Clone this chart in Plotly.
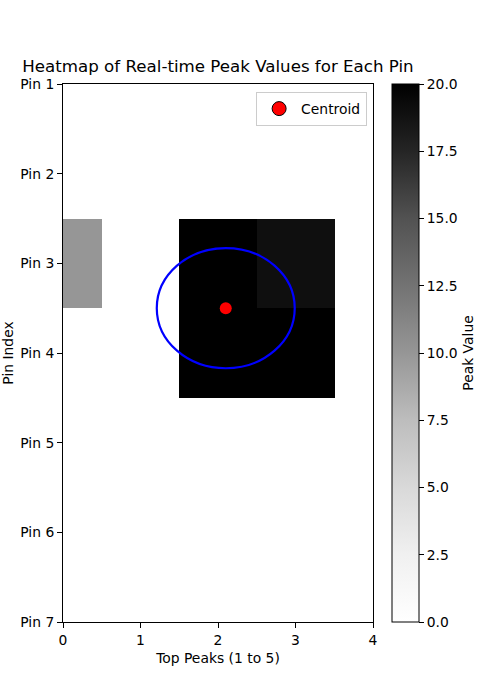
import plotly.graph_objects as go

# ---- data ----
pin_labels = ["Pin 1", "Pin 2", "Pin 3", "Pin 4", "Pin 5", "Pin 6", "Pin 7"]
peak_cols = [0, 1, 2, 3, 4]
pin_rows = [0, 1, 2, 3, 4, 5, 6]
peak_values = [
    [0, 0, 0, 0, 0],
    [0, 0, 0, 0, 0],
    [10, 0, 20, 19, 0],
    [0, 0, 20, 20, 0],
    [0, 0, 0, 0, 0],
    [0, 0, 0, 0, 0],
    [0, 0, 0, 0, 0],
]
centroid_x = [2.1]
centroid_y = [2.5]
ellipse_width = 1.78
ellipse_height = 1.34
x_ticks = [0, 1, 2, 3, 4]
cbar_ticks = [0, 2.5, 5, 7.5, 10, 12.5, 15, 17.5, 20]

# matplotlib "Greys"
greys = [
    [0.0, "rgb(255,255,255)"], [0.125, "rgb(240,240,240)"], [0.25, "rgb(217,217,217)"],
    [0.375, "rgb(189,189,189)"], [0.5, "rgb(150,150,150)"], [0.625, "rgb(115,115,115)"],
    [0.75, "rgb(82,82,82)"], [0.875, "rgb(37,37,37)"], [1.0, "rgb(0,0,0)"],
]

FONT = "DejaVu Sans"
FS = 13.89

fig = go.Figure()
fig.add_trace(go.Heatmap(
    z=peak_values, x=peak_cols, y=pin_rows, colorscale=greys, zmin=0, zmax=20,
    showscale=True, hoverinfo="skip",
    colorbar=dict(
        x=1.061, xanchor="left", xref="paper", y=0.5, yanchor="middle",
        len=1.0, lenmode="fraction", thickness=27, thicknessmode="pixels",
        outlinewidth=1, outlinecolor="black",
        tickvals=cbar_ticks, ticktext=[f"{v:.1f}" for v in cbar_ticks],
        ticks="outside", ticklen=5, tickwidth=1, tickcolor="black",
        tickfont=dict(family=FONT, size=FS, color="black"),
        title=dict(text="Peak Value", side="right",
                   font=dict(family=FONT, size=FS, color="black")),
        xpad=0, ypad=0,
    ),
))

cx, cy = centroid_x[0], centroid_y[0]
fig.add_shape(type="circle", xref="x", yref="y",
              x0=cx - ellipse_width / 2, x1=cx + ellipse_width / 2,
              y0=cy - ellipse_height / 2, y1=cy + ellipse_height / 2,
              line=dict(color="blue", width=2.2))

fig.add_trace(go.Scatter(x=centroid_x, y=centroid_y, mode="markers",
                         marker=dict(color="red", size=12, line=dict(width=0)),
                         showlegend=False, hoverinfo="skip"))
fig.add_trace(go.Scatter(x=[None], y=[None], mode="markers", name="Centroid",
                         marker=dict(color="red", size=14, line=dict(color="black", width=1)),
                         showlegend=True))

fig.update_layout(
    width=500, height=700,
    margin=dict(l=63, r=127, t=84, b=78, autoexpand=False),
    paper_bgcolor="white", plot_bgcolor="white",
    font=dict(family=FONT, size=FS, color="black"),
    title=dict(text="Heatmap of Real-time Peak Values for Each Pin",
               x=(63 + 373) / 2 / 500, xanchor="center",
               y=1 - 66 / 700, yanchor="middle",
               font=dict(family=FONT, size=16.67, color="black")),
    legend=dict(x=0.981, y=0.985, xanchor="right", yanchor="top",
                bgcolor="rgba(255,255,255,0.8)", bordercolor="#cccccc", borderwidth=1,
                font=dict(family=FONT, size=FS, color="black"),
                itemsizing="trace", itemwidth=34, tracegroupgap=0),
    xaxis=dict(range=[0, 4], tickvals=x_ticks, ticktext=[str(v) for v in x_ticks],
               automargin=False,
               showgrid=False, zeroline=False, showline=True, linecolor="black",
               linewidth=1, mirror=True, ticks="outside", ticklen=5, tickcolor="black",
               title=dict(text="Top Peaks (1 to 5)", standoff=6,
                          font=dict(family=FONT, size=FS))),
    yaxis=dict(range=[6, 0], tickvals=pin_rows, ticktext=pin_labels,
               automargin=False,
               showgrid=False, zeroline=False, showline=True, linecolor="black",
               linewidth=1, mirror=True, ticks="outside", ticklen=5, tickcolor="black",
               title=dict(text="Pin Index", standoff=9,
                          font=dict(family=FONT, size=FS))),
)

fig.write_html("out.html")
